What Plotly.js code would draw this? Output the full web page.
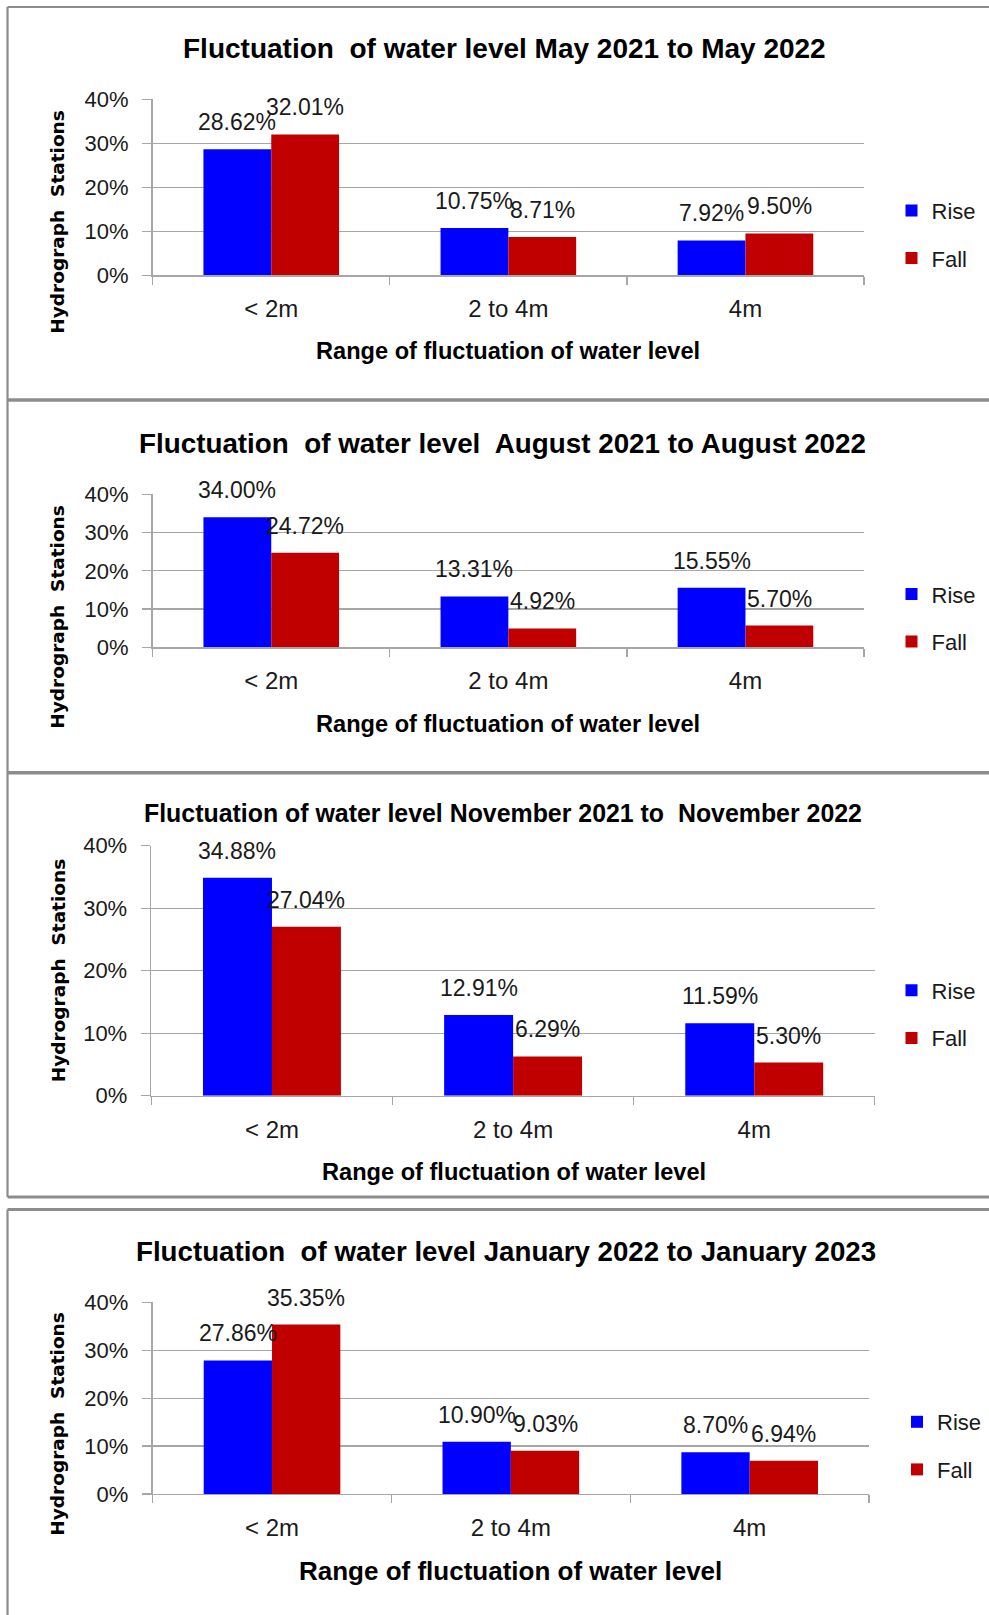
<!DOCTYPE html>
<html>
<head>
<meta charset="utf-8">
<script src="https://cdn.plot.ly/plotly-3.0.1.min.js"></script>
<style>
html,body{margin:0;padding:0;background:#fff;}
#chart{width:989px;height:1615px;}
</style>
</head>
<body>
<div id="chart"></div>
<script>
// ---------------- data ----------------
const categories = ['< 2m', '2 to 4m', '4m'];
const seriesNames = ['Rise', 'Fall'];
const chartTitles = [
  'Fluctuation  of water level May 2021 to May 2022',
  'Fluctuation  of water level  August 2021 to August 2022',
  'Fluctuation of water level November 2021 to  November 2022',
  'Fluctuation  of water level January 2022 to January 2023'
];
const xAxisTitle = 'Range of fluctuation of water level';
const yAxisTitle = 'Hydrograph  Stations';
const riseMay = [28.62, 10.75, 7.92];
const fallMay = [32.01, 8.71, 9.50];
const riseAug = [34.00, 13.31, 15.55];
const fallAug = [24.72, 4.92, 5.70];
const riseNov = [34.88, 12.91, 11.59];
const fallNov = [27.04, 6.29, 5.30];
const riseJan = [27.86, 10.90, 8.70];
const fallJan = [35.35, 9.03, 6.94];
const yTickVals = [0, 10, 20, 30, 40];
const yTickText = ['0%', '10%', '20%', '30%', '40%'];

// ---------------- layout geometry (px) ----------------
const W = 989, H = 1615;
const px = v => v / W;
const py = v => 1 - v / H;
const riseColor = '#0000FF', fallColor = '#C00000';
const gridColor = '#A6A6A6';
const txt = '#1a1a1a';
const FONT = 'Liberation Sans, Arial, sans-serif';
const BOLD_Y = 'DejaVu Sans, Verdana, sans-serif';
const bargap = 0.428;

const panels = [
  {rise: riseMay, fall: fallMay, x0: 152.7, x1: 864.0, yTop: 99.3, yBot: 275.3,
   tx: 504.6, ty: 49.0, ts: 28, xtx: 507.8, xty: 350.7, xts: 23.6, yty: 221.7, lx: 891.5, ly: 234.7},
  {rise: riseAug, fall: fallAug, x0: 152.7, x1: 864.0, yTop: 494.3, yBot: 647.3,
   tx: 502.7, ty: 443.3, ts: 27.8, xtx: 507.8, xty: 724.3, xts: 23.6, yty: 616.7, lx: 891.5, ly: 618.2},
  {rise: riseNov, fall: fallNov, x0: 151.4, x1: 874.8, yTop: 845.7, yBot: 1095.7,
   tx: 503.3, ty: 812.7, ts: 24.9, xtx: 514.0, xty: 1171.7, xts: 23.6, yty: 970.3, lx: 891.5, ly: 1014.5},
  {rise: riseJan, fall: fallJan, x0: 152.6, x1: 869.1, yTop: 1302.3, yBot: 1494.0,
   tx: 505.5, ty: 1251.0, ts: 27.7, xtx: 510.9, xty: 1571.0, xts: 26, yty: 1423.7, lx: 897.0, ly: 1446.0}
];

const data = [];
const layout = {
  width: W, height: H, autosize: false,
  margin: {l: 0, r: 0, t: 0, b: 0, pad: 0},
  paper_bgcolor: '#fff', plot_bgcolor: 'rgba(0,0,0,0)',
  font: {family: FONT, color: txt, size: 22},
  barmode: 'group', bargap: bargap, bargroupgap: 0,
  annotations: [], shapes: []
};

panels.forEach((p, idx) => {
  const k = idx + 1;
  const sfx = k === 1 ? '' : String(k);
  const xa = 'x' + sfx, ya = 'y' + sfx;
  const leg = 'legend' + sfx;
  [p.rise, p.fall].forEach((vals, s) => {
    data.push({
      type: 'bar', x: categories, y: vals, name: seriesNames[s],
      xaxis: xa, yaxis: ya, legend: leg, legendgroup: seriesNames[s] + k,
      marker: {color: s === 0 ? riseColor : fallColor, line: {width: 0}},
      hoverinfo: 'skip', cliponaxis: false
    });
    const off = (s === 0 ? -1 : 1) * (1 - bargap) / 4;
    vals.forEach((v, i) => {
      layout.annotations.push({
        xref: xa, yref: ya, x: i + off, y: v, text: v.toFixed(2) + '%',
        showarrow: false, xanchor: 'center', yanchor: 'middle', yshift: 27,
        font: {family: FONT, size: 23, color: txt}
      });
    });
  });
  layout['xaxis' + sfx] = {
    domain: [px(p.x0), px(p.x1)], anchor: ya, type: 'category',
    showline: true, linecolor: gridColor, linewidth: 1.3,
    ticks: 'outside', tickson: 'boundaries', ticklen: 8, tickcolor: gridColor, tickwidth: 1.3,
    tickfont: {family: FONT, size: 24, color: txt}, ticklabelstandoff: 12,
    showgrid: false, zeroline: false, fixedrange: true
  };
  layout['yaxis' + sfx] = {
    domain: [py(p.yBot), py(p.yTop)], anchor: xa, range: [0, 40],
    tickmode: 'array', tickvals: yTickVals, ticktext: yTickText,
    showline: true, linecolor: gridColor, linewidth: 1.3,
    ticks: 'outside', ticklen: 9.5, tickcolor: gridColor, tickwidth: 1.3,
    showgrid: true, gridcolor: gridColor, gridwidth: 1.3, zeroline: false,
    tickfont: {family: FONT, size: 22, color: txt}, ticklabelstandoff: 9, fixedrange: true
  };
  layout[leg] = {
    x: px(p.lx), xanchor: 'left', y: py(p.ly), yanchor: 'middle',
    xref: 'paper', yref: 'paper',
    bgcolor: 'rgba(0,0,0,0)', borderwidth: 0, tracegroupgap: 16,
    font: {family: FONT, size: 22, color: txt}, orientation: 'v'
  };
  // chart title
  layout.annotations.push({
    xref: 'paper', yref: 'paper', x: px(p.tx), y: py(p.ty), xanchor: 'center', yanchor: 'middle',
    text: '<b>' + chartTitles[idx] + '</b>', showarrow: false,
    font: {family: FONT, size: p.ts, color: '#000'}
  });
  // x axis title
  layout.annotations.push({
    xref: 'paper', yref: 'paper', x: px(p.xtx), y: py(p.xty), xanchor: 'center', yanchor: 'middle',
    text: '<b>' + xAxisTitle + '</b>', showarrow: false,
    font: {family: FONT, size: p.xts, color: '#000'}
  });
  // y axis title
  layout.annotations.push({
    xref: 'paper', yref: 'paper', x: px(58), y: py(p.yty), xanchor: 'center', yanchor: 'middle',
    text: '<b>' + yAxisTitle + '</b>', showarrow: false, textangle: -90,
    font: {family: BOLD_Y, size: 18.5, color: '#000'}
  });
});

// panel borders
const border = '#8C8C8C';
const hline = (y, w) => ({type: 'line', xref: 'paper', yref: 'paper', x0: px(7.5), x1: 1, y0: py(y), y1: py(y), line: {color: border, width: w}});
const vline = (y0, y1) => ({type: 'line', xref: 'paper', yref: 'paper', x0: px(7.5), x1: px(7.5), y0: py(y0), y1: py(y1), line: {color: border, width: 2.2}});
layout.shapes.push(hline(7, 2.2), hline(400, 3.5), hline(772.7, 3.5), hline(1197, 3), hline(1209.5, 3));
layout.shapes.push(vline(7, 1197), vline(1209.5, 1615));

Plotly.newPlot('chart', data, layout, {displayModeBar: false, staticPlot: true});
</script>
</body>
</html>
